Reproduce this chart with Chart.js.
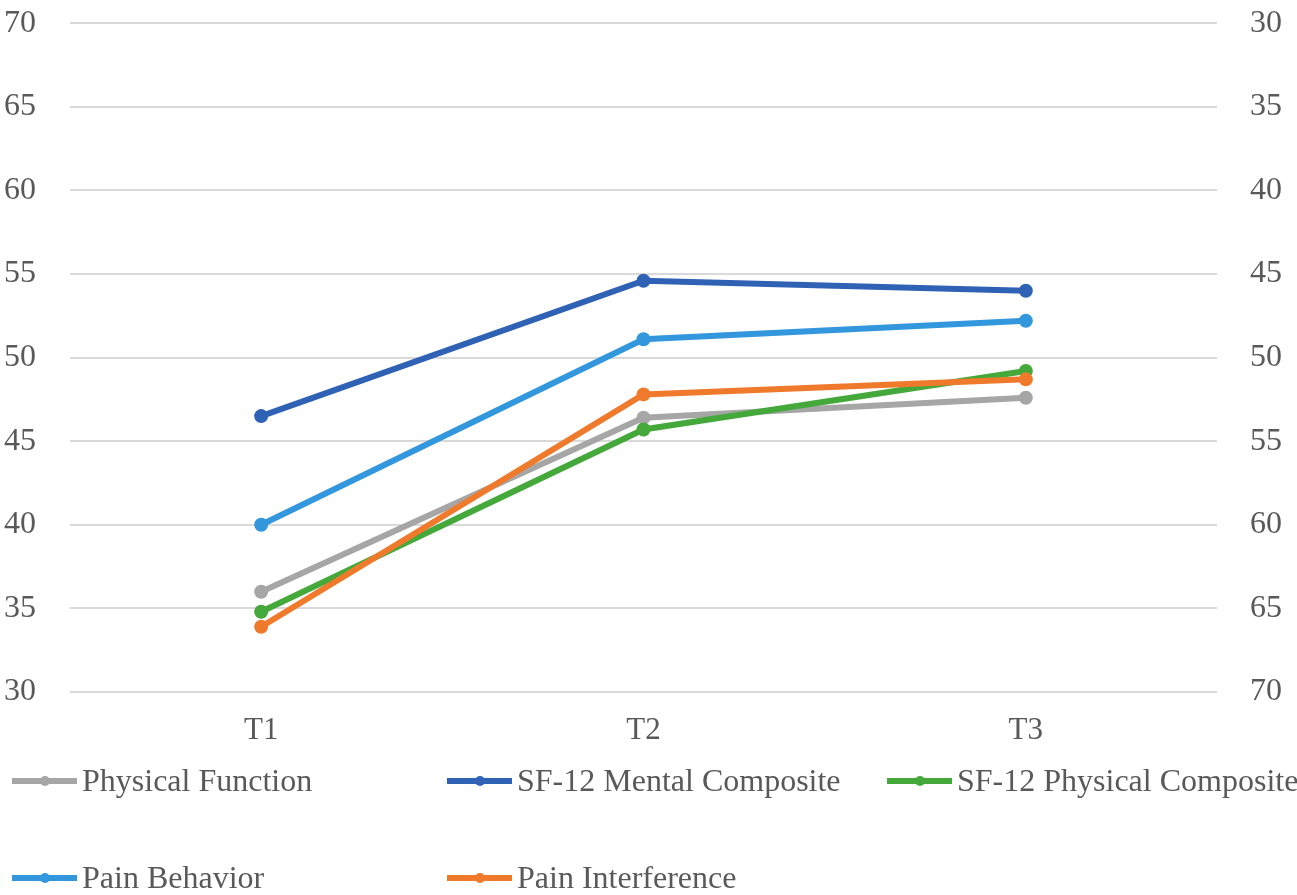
<!DOCTYPE html>
<html>
<head>
<meta charset="utf-8">
<script src="https://cdn.jsdelivr.net/npm/chart.js@4/dist/chart.umd.min.js"></script>
<style>
  html, body { margin: 0; padding: 0; background: #fff; }
  #wrap { position: relative; width: 1297px; height: 895px; overflow: hidden; }
  #chart { position: absolute; left: 0; top: -30px; }
  #legend { position: absolute; left: 0; top: 0; width: 1297px; height: 895px; pointer-events: none; }
  .item { position: absolute; display: flex; align-items: center; white-space: nowrap;
          font-family: "Liberation Serif", "Times New Roman", serif; font-size: 32px; color: #595959; }
  .swatch { position: relative; display: inline-block; width: 65px; height: 6px; margin-right: 5px; }
  .swatch i { position: absolute; left: 28px; top: -2px; width: 10px; height: 10px; border-radius: 50%; }
</style>
</head>
<body>
<div id="wrap">
  <canvas id="chart" width="1297" height="925"></canvas>
  <div id="legend"></div>
</div>
<script>
const categories = ['T1', 'T2', 'T3'];
const physicalFunction = [36.0, 46.4, 47.6];
const sf12Mental = [46.5, 54.6, 54.0];
const sf12Physical = [34.8, 45.7, 49.2];
// pain scores
const painBehavior = [60.0, 48.9, 47.8];
const painInterference = [66.1, 52.2, 51.3];
const leftTicks = [30, 35, 40, 45, 50, 55, 60, 65, 70];

const seriesNames = ['Physical Function', 'SF-12 Mental Composite', 'SF-12 Physical Composite', 'Pain Behavior', 'Pain Interference'];
const seriesColors = ['#A6A6A6', '#2F62B4', '#45A83B', '#3297DC', '#F07A2C'];

const fontFamily = '"Liberation Serif", "Times New Roman", serif';
const textColor = '#595959';

function lineSet(i, data, axis) {
    return {
        label: seriesNames[i],
        data: data,
        yAxisID: axis,
        borderColor: seriesColors[i],
        backgroundColor: seriesColors[i],
        borderWidth: 6,
        pointRadius: 7,
        pointHoverRadius: 7,
        pointBorderWidth: 0,
        tension: 0,
        order: 5 - i
    };
}

new Chart(document.getElementById('chart'), {
    type: 'line',
    data: {
        labels: categories,
        datasets: [
            lineSet(0, physicalFunction, 'y'),
            lineSet(1, sf12Mental, 'y'),
            lineSet(2, sf12Physical, 'y'),
            lineSet(3, painBehavior, 'y1'),
            lineSet(4, painInterference, 'y1')
        ]
    },
    options: {
        responsive: false,
        animation: false,
        layout: { padding: { top: 22, bottom: 143, left: 0, right: 0 } },
        plugins: {
            legend: { display: false },
            tooltip: { enabled: false }
        },
        scales: {
            x: {
                offset: true,
                grid: { display: false, drawTicks: false },
                border: { display: false },
                ticks: { color: textColor, padding: 20, font: { family: fontFamily, size: 31 } },
                afterFit: s => { s.height = 60; }
            },
            y: {
                position: 'left',
                min: 30,
                max: 70,
                afterBuildTicks: s => { s.ticks = leftTicks.map(v => ({ value: v })); },
                grid: { color: '#D9D9D9', lineWidth: 2, drawTicks: false },
                border: { display: false },
                ticks: { color: textColor, padding: 34, font: { family: fontFamily, size: 32 } },
                afterFit: s => { s.width = 70; }
            },
            y1: {
                position: 'right',
                reverse: true,
                min: 30,
                max: 70,
                afterBuildTicks: s => { s.ticks = leftTicks.map(v => ({ value: v })); },
                grid: { display: false, drawTicks: false },
                border: { display: false },
                ticks: { color: textColor, padding: 33, font: { family: fontFamily, size: 32 } },
                afterFit: s => { s.width = 80; }
            }
        }
    }
});

// legend laid out like the spreadsheet original: three columns, two rows
const legendSlots = [[12, 780], [447, 780], [887, 780], [12, 877], [447, 877]];
const legendEl = document.getElementById('legend');
seriesNames.forEach((name, i) => {
    const item = document.createElement('div');
    item.className = 'item';
    item.style.left = legendSlots[i][0] + 'px';
    item.style.top = (legendSlots[i][1] - 18) + 'px';
    item.innerHTML = '<span class="swatch" style="background:' + seriesColors[i] + '"><i style="background:' + seriesColors[i] + '"></i></span>' + name;
    legendEl.appendChild(item);
});
</script>
</body>
</html>
